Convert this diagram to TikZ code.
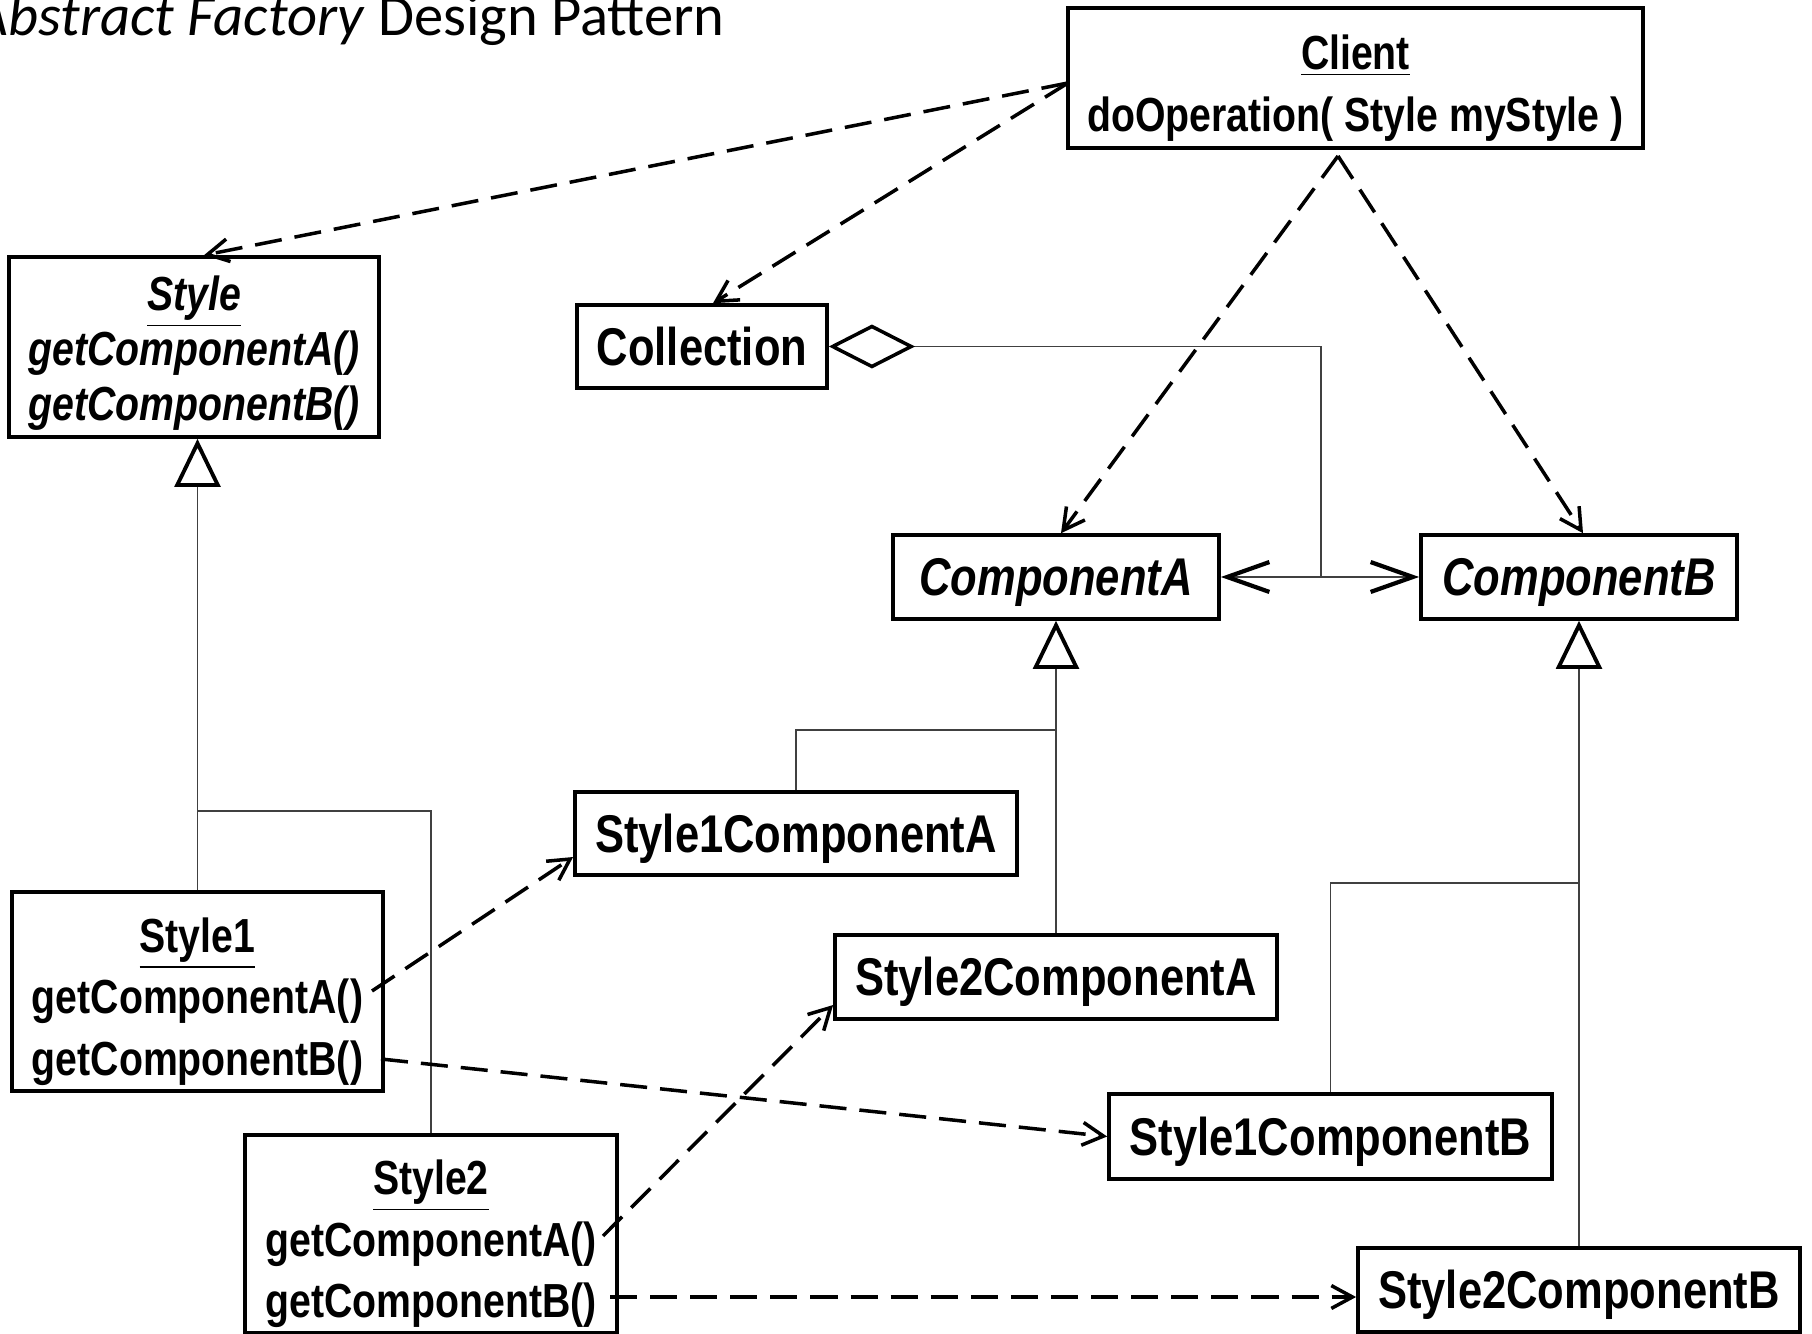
\documentclass[tikz,border=0pt]{standalone}
\usepackage{fontspec}
\setmainfont{Carlito}
\newfontfamily\umlfont[FakeStretch=0.82]{Liberation Sans}
\usetikzlibrary{arrows.meta}
\newcommand{\headroom}[1]{\rule{0pt}{#1}}
\tikzset{
	umlbox/.style={draw, line width=1pt, inner sep=0pt},
	classbox/.style={umlbox, text height=10.8pt, text depth=0pt, font=\umlfont\bfseries\fontsize{15.1}{17}\selectfont},
	opsbox/.style={umlbox, align=center, font=\umlfont\bfseries\fontsize{13.6}{17.5}\selectfont},
	uses/.style={line width=1pt, dash pattern=on 7.7pt off 3.7pt, -{Straight Barb[length=6pt,width=6.5pt]}},
	wire/.style={line width=0.45pt, draw=black!75},
	inherits/.style={wire, -{Triangle[open,length=13.7pt,width=13pt,line width=1.1pt,color=black]}},
	holds/.style={wire, -{Straight Barb[length=12pt,width=8.5pt,line width=1.2pt,color=black]}},
}
\begin{document}
\begin{tikzpicture}[x=0.01cm, y=-0.01cm]
	\useasboundingbox (0,0) rectangle (1812,1334);
	\node[anchor=base east, font=\fontsize{16.65}{19}\selectfont] (title) at (737,36) {\textit{Abstract Factory} Design Pattern};
	\node[opsbox, minimum width=5.75cm, minimum height=1.40cm, font=\umlfont\bfseries\fontsize{13.6}{17.7}\selectfont] (Client) at (1355.5,78) {\headroom{15.5pt}\underline{Client}\\doOperation( Style myStyle )};
	\node[opsbox, minimum width=3.70cm, minimum height=1.80cm, font=\umlfont\bfseries\itshape\fontsize{13.6}{15.6}\selectfont] (Style) at (194,347) {\headroom{13.5pt}\underline{Style}\\getComponentA()\\getComponentB()};
	\node[classbox, minimum width=2.50cm, minimum height=0.83cm] (Collection) at (702,346.5) {Collection};
	\node[classbox, minimum width=3.26cm, minimum height=0.84cm, font=\umlfont\bfseries\itshape\fontsize{15.1}{17}\selectfont] (ComponentA) at (1056,577) {ComponentA};
	\node[classbox, minimum width=3.16cm, minimum height=0.84cm, font=\umlfont\bfseries\itshape\fontsize{15.1}{17}\selectfont] (ComponentB) at (1579,577) {ComponentB};
	\node[classbox, minimum width=4.42cm, minimum height=0.83cm] (S1CA) at (796,833.5) {Style1ComponentA};
	\node[classbox, minimum width=4.42cm, minimum height=0.84cm] (S2CA) at (1056,977) {Style2ComponentA};
	\node[classbox, minimum width=4.43cm, minimum height=0.85cm] (S1CB) at (1330.5,1136.5) {Style1ComponentB};
	\node[classbox, minimum width=4.42cm, minimum height=0.84cm] (S2CB) at (1579,1290) {Style2ComponentB};
	\node[opsbox, minimum width=3.71cm, minimum height=1.99cm] (Style1) at (197.5,991.5) {\headroom{15.5pt}\underline{Style1}\\getComponentA()\\getComponentB()};
	\node[opsbox, minimum width=3.72cm, minimum height=1.98cm] (Style2) at (431,1234) {\headroom{15.5pt}\underline{Style2}\\getComponentA()\\getComponentB()};

	\coordinate (cw) at (1068,83);
	\coordinate (cs) at (1338,156);
	\draw[uses] (cw) -- ([xshift=0.1cm]Style.north);
	\draw[uses] (cw) -- ([xshift=0.11cm]Collection.north);
	\draw[uses] (cs) -- ([xshift=0.05cm]ComponentA.north);
	\draw[uses] (cs) -- ([xshift=0.04cm]ComponentB.north);

	\coordinate (hub) at (1321,577);
	\draw[wire, {Diamond[open,length=24.5pt,width=12.5pt,line width=1pt,color=black]}-] (Collection.east) -| (hub);
	\draw[holds] (hub) -- (ComponentA.east);
	\draw[holds] (hub) -- (ComponentB.west);

	\foreach \top/\main/\side/\y in {Style/Style1/Style2/811, ComponentA/S2CA/S1CA/730, ComponentB/S2CB/S1CB/883} {
		\path (0,\y) coordinate (br);
		\draw[inherits] (\main.north) -- (\main.north |- \top.south);
		\draw[wire] (\main.north |- br) -| (\side.north);
	}

	\coordinate (s1a) at (372,991);
	\coordinate (s1b) at (381,1059);
	\coordinate (s2a) at (603,1236);
	\coordinate (s2b) at (610,1297);
	\draw[uses] (s1a) -- ([yshift=-0.235cm]S1CA.west);
	\draw[uses] (s1b) -- (S1CB.west);
	\draw[uses] (s2a) -- ([yshift=-0.28cm]S2CA.west);
	\draw[uses] (s2b) -- (s2b -| S2CB.west);
\end{tikzpicture}
\end{document}
